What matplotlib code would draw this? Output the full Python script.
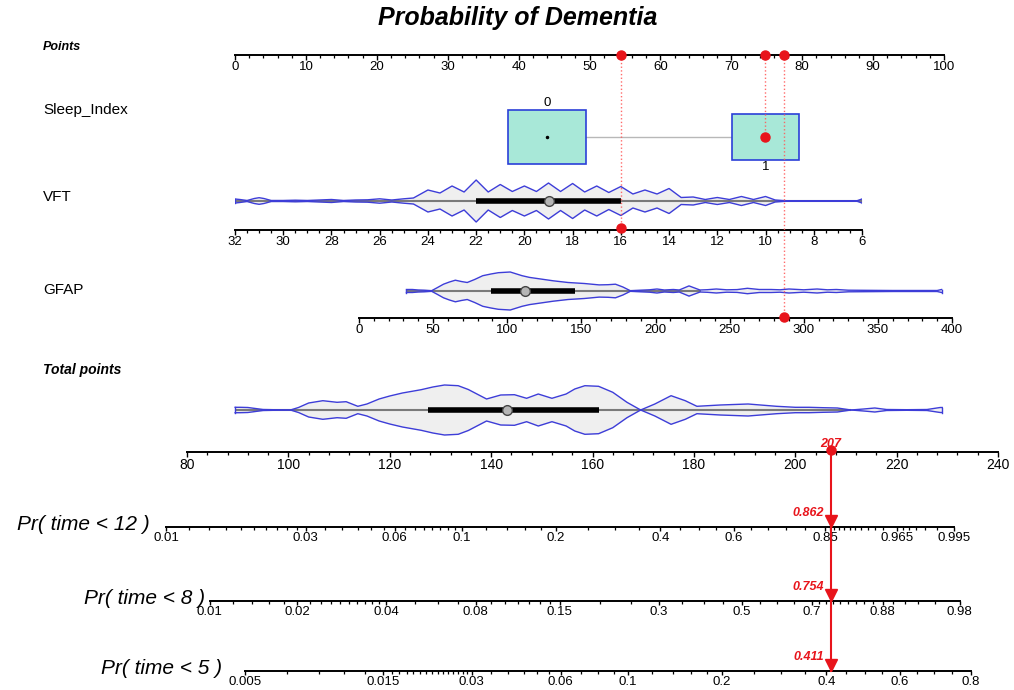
import numpy as np
import matplotlib
matplotlib.use("Agg")
import matplotlib.pyplot as plt
from matplotlib.lines import Line2D
from matplotlib.patches import Rectangle
from matplotlib.transforms import blended_transform_factory

plt.rcParams['font.family'] = ['Liberation Sans', 'DejaVu Sans']

W, H = 1014, 690

# ===== DADOS =====
points_ticks = np.arange(0, 101, 10)

sleep_levels = ['0', '1']
sleep_points = [44.0, 74.8]
sleep_freq = [0.57, 0.43]

vft_ticks = np.arange(32, 5, -2)
vft_kde_x = [32, 31.8, 31.5, 31.2, 31, 30.8, 30.5, 30, 29.5, 29,
             28.5, 28, 27.5, 27, 26.5, 26, 25.5, 25, 24.6, 24,
             23.5, 23, 22.5, 22, 21.5, 21, 20.5, 20, 19.5, 19,
             18.5, 18, 17.5, 17, 16.5, 16, 15.5, 15, 14.5, 14,
             13.5, 13, 12.5, 12, 11.5, 11, 10.5, 10, 9.6, 9.2,
             6.2, 6.0]
vft_kde_h = [2, 1.5, 0.5, 2.5, 3.3, 2.5, 0.5, 0.5, 0.8, 0.5,
             1.0, 1.5, 0.5, 1, 1.2, 2.2, 1, 2.2, 3, 11,
             8, 15, 9, 21, 9, 16.5, 9.5, 15, 9.5, 18,
             9.5, 17.5, 9, 15, 8.5, 14.5, 7, 11, 7, 12.5,
             3.5, 4, 1.5, 3.5, 1.5, 4.5, 1.5, 4.5, 1, 0.3,
             0.3, 2]
vft_whisker = [32, 6]
vft_iqr = [22, 16]
vft_median = 19

gfap_ticks = np.arange(0, 401, 50)
gfap_kde_x = [32, 36, 40, 44, 49, 53, 57, 61, 65, 69,
              73, 78, 83.5, 89, 94, 102, 110, 115, 123, 131,
              141, 152, 162, 168, 173, 178, 183, 190, 196, 201,
              206, 212, 216, 222.6, 230, 235, 241, 248, 255, 262,
              270, 278, 284, 290, 300, 309, 316, 322, 330, 360,
              390, 393]
gfap_kde_h = [1.5, 1.5, 1.0, 0.8, 0.3, 3.5, 6.8, 9, 10.8, 9.5,
              8.5, 11.5, 15.3, 17, 18.3, 19, 15.3, 13.6, 11.9, 10.2,
              8.5, 7.5, 6.1, 6.3, 6.8, 4, 0.3, 0.8, 1.2, 2,
              1, 1.5, 1, 5.1, 1, 1.3, 2, 1.2, 1.4, 2.7,
              1.5, 1.5, 1.2, 2, 1.2, 2, 1.2, 1.5, 0.8, 0.5,
              0.5, 1.5]
gfap_whisker = [32, 231]
gfap_iqr = [89, 146]
gfap_median = 112

total_ticks = np.arange(80, 241, 20)
tot_kde_x = [89.5, 90.5, 92, 93.5, 95, 97, 100.4,
             102, 104, 106.8, 109.6, 111.4, 113.7, 115.5, 117.9, 120, 122.5,
             126.2, 128.5, 130.8, 133.5, 135.5, 137.2, 139.1, 141.9, 144.6, 147,
             149.3, 152, 154.8, 156.5, 158.5, 161.2, 164, 166.8, 169.5,
             172.3, 175.5, 178.3, 180.6, 185.2, 190.7, 196.3, 200, 202.7, 205.5,
             208.3, 211, 213.5, 215.7, 218, 222, 226, 228.6, 229]
tot_kde_h = [2.7, 2.7, 2.5, 1.5, 0.5, 0.3, 0,
             2.5, 7, 9.3, 7.7, 8.3, 3.7, 6, 11, 14, 17,
             20.3, 23, 25, 24.3, 20.5, 16, 11, 15, 15.3, 11.7,
             16, 11.7, 16, 21, 24.3, 23.7, 17.7, 7.7, 0,
             6, 14.3, 9.3, 3.7, 5, 6, 3.7, 2.7, 2.7, 2.3,
             2, 0, 1, 2, 0.5, 0.3, 0.5, 2.5, 2.5]
tot_whisker = [89.5, 211]
tot_iqr = [127.6, 161.2]
tot_median = 143.2

# paciente marcado
pac_vft = 16
pac_sleep = 1
pac_gfap = 287
pac_total = 207

pred_labels = ['Pr( time < 12 )', 'Pr( time < 8 )', 'Pr( time < 5 )']
pred_probs = [0.862, 0.754, 0.411]
lp_slope = 0.0403
pr_ticks = [
    [0.01, 0.03, 0.06, 0.1, 0.2, 0.4, 0.6, 0.85, 0.965, 0.995],
    [0.01, 0.02, 0.04, 0.08, 0.15, 0.3, 0.5, 0.7, 0.88, 0.98],
    [0.005, 0.015, 0.03, 0.06, 0.1, 0.2, 0.4, 0.6, 0.8],
]
pr_tick_labels = [
    ['0.01', '0.03', '0.06', '0.1', '0.2', '0.4', '0.6', '0.85', '0.965', '0.995'],
    ['0.01', '0.02', '0.04', '0.08', '0.15', '0.3', '0.5', '0.7', '0.88', '0.98'],
    ['0.005', '0.015', '0.03', '0.06', '0.1', '0.2', '0.4', '0.6', '0.8'],
]
pr_minor_step = [
    [0.002, 0.005, 0.005, 0.02, 0.05, 0.05, 0.05, 0.01, 0.005],
    [0.002, 0.002, 0.01, 0.01, 0.05, 0.05, 0.05, 0.02, 0.02],
    [0.002, 0.001, 0.005, 0.01, 0.02, 0.05, 0.05, 0.05],
]

# ===== ESTILO =====
AZUL = '#3d3dd8'
VERMELHO = '#e8141b'
CINZA_VIOLINO = '#efefef'
MENTA = '#a8e8d8'

fig = plt.figure(figsize=(W / 100, H / 100), dpi=100)


def eixo_px(x0, x1, y_top, y_axis, label_size=9.5):
    ax = fig.add_axes([x0 / W, 1 - y_axis / H, (x1 - x0) / W, (y_axis - y_top) / H])
    ax.set_ylim(0, y_axis - y_top)
    ax.patch.set_alpha(0)
    for s in ['top', 'left', 'right']:
        ax.spines[s].set_visible(False)
    ax.set_yticks([])
    ax.spines['bottom'].set_linewidth(1.4)
    ax.tick_params(axis='x', which='major', length=3.5, width=1, pad=1, labelsize=label_size)
    ax.tick_params(axis='x', which='minor', length=2.2, width=0.9)
    return ax


def violino(ax, xs, hs, yc, whisker, iqr, mediana):
    xs = np.asarray(xs)
    hs = np.asarray(hs)
    ax.fill_between(xs, yc - hs, yc + hs, color=CINZA_VIOLINO, lw=0, zorder=1)
    ax.plot(whisker, [yc, yc], color='#7a7a7a', lw=1.5, zorder=2, solid_capstyle='butt')
    ax.plot(xs, yc + hs, color=AZUL, lw=1, zorder=3)
    ax.plot(xs, yc - hs, color=AZUL, lw=1, zorder=3)
    ax.plot([xs[0], xs[0]], [yc - hs[0], yc + hs[0]], color=AZUL, lw=1, zorder=3)
    ax.plot([xs[-1], xs[-1]], [yc - hs[-1], yc + hs[-1]], color=AZUL, lw=1, zorder=3)
    ax.plot(iqr, [yc, yc], color='black', lw=4, zorder=4, solid_capstyle='butt')
    ax.plot([mediana], [yc], marker='o', ms=7, mfc='#b5b5b5', mec='#444444', mew=1, zorder=5)


def linha_fig(ax, xval, y1, y2, **kw):
    tr = blended_transform_factory(ax.transData, fig.transFigure)
    fig.add_artist(Line2D([xval, xval], [1 - y1 / H, 1 - y2 / H], transform=tr, **kw))


def ponto_fig(ax, xval, y, **kw):
    tr = blended_transform_factory(ax.transData, fig.transFigure)
    fig.add_artist(Line2D([xval], [1 - y / H], transform=tr, **kw))


# ===== TITULO E ROTULOS =====
fig.text(518 / W, 1 - 18 / H, 'Probability of Dementia', ha='center', va='center',
         fontsize=18, fontweight='bold', fontstyle='italic')
fig.text(43 / W, 1 - 47 / H, 'Points', va='center', fontsize=9, fontweight='bold', fontstyle='italic')
fig.text(43 / W, 1 - 110 / H, 'Sleep_Index', va='center', fontsize=11)
fig.text(43 / W, 1 - 197 / H, 'VFT', va='center', fontsize=11)
fig.text(43 / W, 1 - 290 / H, 'GFAP', va='center', fontsize=11)
fig.text(43 / W, 1 - 370 / H, 'Total points', va='center', fontsize=10, fontweight='bold', fontstyle='italic')

# ===== POINTS =====
ax_pts = eixo_px(235, 944, 40, 55)
ax_pts.set_xticks(points_ticks)
ax_pts.set_xticks(np.arange(0, 101, 2), minor=True)
ax_pts.set_xlim(0, 100)

# ===== SLEEP_INDEX =====
ax_sl = eixo_px(235, 944, 95, 175)
ax_sl.spines['bottom'].set_visible(False)
ax_sl.set_xticks([])
ax_sl.set_xlim(0, 100)
yc_sl = 38
larguras = [14.4 * np.sqrt(f) for f in sleep_freq]
alturas = [71.5 * np.sqrt(f) for f in sleep_freq]
ax_sl.plot([sleep_points[0] + larguras[0] / 2, sleep_points[1] - larguras[1] / 2], [yc_sl, yc_sl],
           color='#b8b8b8', lw=1, zorder=1)
for i, (lvl, xp) in enumerate(zip(sleep_levels, sleep_points)):
    ax_sl.add_patch(Rectangle((xp - larguras[i] / 2, yc_sl - alturas[i] / 2), larguras[i], alturas[i],
                              facecolor=MENTA, edgecolor='#2b3fd8', lw=1.2, zorder=2))
    if i == 0:
        ax_sl.text(xp, yc_sl + alturas[i] / 2 + 1, lvl, ha='center', va='bottom', fontsize=9.5)
        ax_sl.plot([xp], [yc_sl], marker='o', ms=1.5, color='black', zorder=3)
    else:
        ax_sl.text(xp, yc_sl - alturas[i] / 2 - 1, lvl, ha='center', va='top', fontsize=9.5)

# ===== VFT =====
ax_vft = eixo_px(235, 862, 175, 230)
ax_vft.set_xticks(vft_ticks)
ax_vft.set_xticks(np.arange(6, 32.01, 0.5), minor=True)
ax_vft.set_xlim(32, 6)
violino(ax_vft, vft_kde_x, vft_kde_h, 29, vft_whisker, vft_iqr, vft_median)

# ===== GFAP =====
ax_gf = eixo_px(359, 952, 268, 318)
ax_gf.set_xticks(gfap_ticks)
ax_gf.set_xticks(np.arange(0, 401, 10), minor=True)
ax_gf.set_xlim(0, 400)
violino(ax_gf, gfap_kde_x, gfap_kde_h, 27, gfap_whisker, gfap_iqr, gfap_median)

# ===== TOTAL POINTS =====
ax_tot = eixo_px(187, 998, 380, 452, label_size=10)
ax_tot.set_xticks(total_ticks)
ax_tot.set_xticks(np.arange(80, 241, 4), minor=True)
ax_tot.set_xlim(80, 240)
violino(ax_tot, tot_kde_x, tot_kde_h, 42, tot_whisker, tot_iqr, tot_median)

# ===== PROBABILIDADES =====
# os eixos de probabilidade ficam na mesma escala de pontos totais (187 px = 80, 998 px = 240)
px_por_ponto = (998 - 187) / 160
pr_x0, pr_x1 = 140, 1004
tp0 = 80 + (pr_x0 - 187) / px_por_ponto
tp1 = 80 + (pr_x1 - 187) / px_por_ponto
pr_y = [527, 601, 671]
pr_label_x = [150, 205, 222]
for k in range(3):
    p_ref = pred_probs[k]
    c_ref = np.log(-np.log(1 - p_ref))

    def fwd(p, c_ref=c_ref):
        p = np.clip(p, 1e-9, 1 - 1e-9)
        return pac_total + (np.log(-np.log(1 - p)) - c_ref) / lp_slope

    def inv(t, c_ref=c_ref):
        return 1 - np.exp(-np.exp(c_ref + lp_slope * (np.asarray(t) - pac_total)))

    ax = eixo_px(pr_x0, pr_x1, pr_y[k] - 12, pr_y[k], label_size=9.5)
    ax.tick_params(axis='x', which='major', length=3, pad=0.5)
    ax.set_xscale('function', functions=(fwd, inv))
    ticks = pr_ticks[k]
    ax.set_xticks(ticks)
    ax.set_xticklabels(pr_tick_labels[k])
    menores = []
    for a, b, passo in zip(ticks[:-1], ticks[1:], pr_minor_step[k]):
        menores.extend(np.arange(a + passo, b - passo / 2, passo))
    ax.set_xticks(menores, minor=True)
    ax.set_xlim(inv(tp0), inv(tp1))
    ax.spines['bottom'].set_bounds(ticks[0], ticks[-1])
    # seta e valor previsto
    ax.plot([p_ref], [6], marker='v', ms=9, color=VERMELHO, clip_on=False, zorder=6)
    ax.annotate(f'{p_ref:.3f}', xy=(p_ref, 0), xytext=(-5, 6), textcoords='offset points',
                ha='right', va='bottom', color=VERMELHO, fontsize=9,
                fontweight='bold', fontstyle='italic')
    fig.text(pr_label_x[k] / W, 1 - (pr_y[k] - 3) / H, pred_labels[k], ha='right', va='center',
             fontsize=15, fontstyle='italic')

# ===== LINHAS DO PACIENTE =====
pontilhado = dict(color='#ff5a5a', ls=':', lw=1, alpha=0.9, zorder=8)
ponto = dict(marker='o', ms=6.5, color=VERMELHO, ls='none', zorder=9)

linha_fig(ax_vft, pac_vft, 55, 230, **pontilhado)
ponto_fig(ax_vft, pac_vft, 55, **ponto)
ponto_fig(ax_vft, pac_vft, 228, **ponto)

x_sleep = sleep_points[sleep_levels.index(str(pac_sleep))]
linha_fig(ax_sl, x_sleep, 55, 137, **pontilhado)
ponto_fig(ax_sl, x_sleep, 55, **ponto)
ponto_fig(ax_sl, x_sleep, 137, **ponto)

linha_fig(ax_gf, pac_gfap, 55, 318, **pontilhado)
ponto_fig(ax_gf, pac_gfap, 55, **ponto)
ponto_fig(ax_gf, pac_gfap, 317, **ponto)

linha_fig(ax_tot, pac_total, 450, pr_y[-1], color=VERMELHO, lw=1.5, zorder=7)
ponto_fig(ax_tot, pac_total, 450, **ponto)
ax_tot.annotate(str(pac_total), xy=(pac_total, 0), xytext=(0, 1.5), textcoords='offset points',
                ha='center', va='bottom', color=VERMELHO, fontsize=9,
                fontweight='bold', fontstyle='italic')

fig.savefig('out.png', dpi=100)
